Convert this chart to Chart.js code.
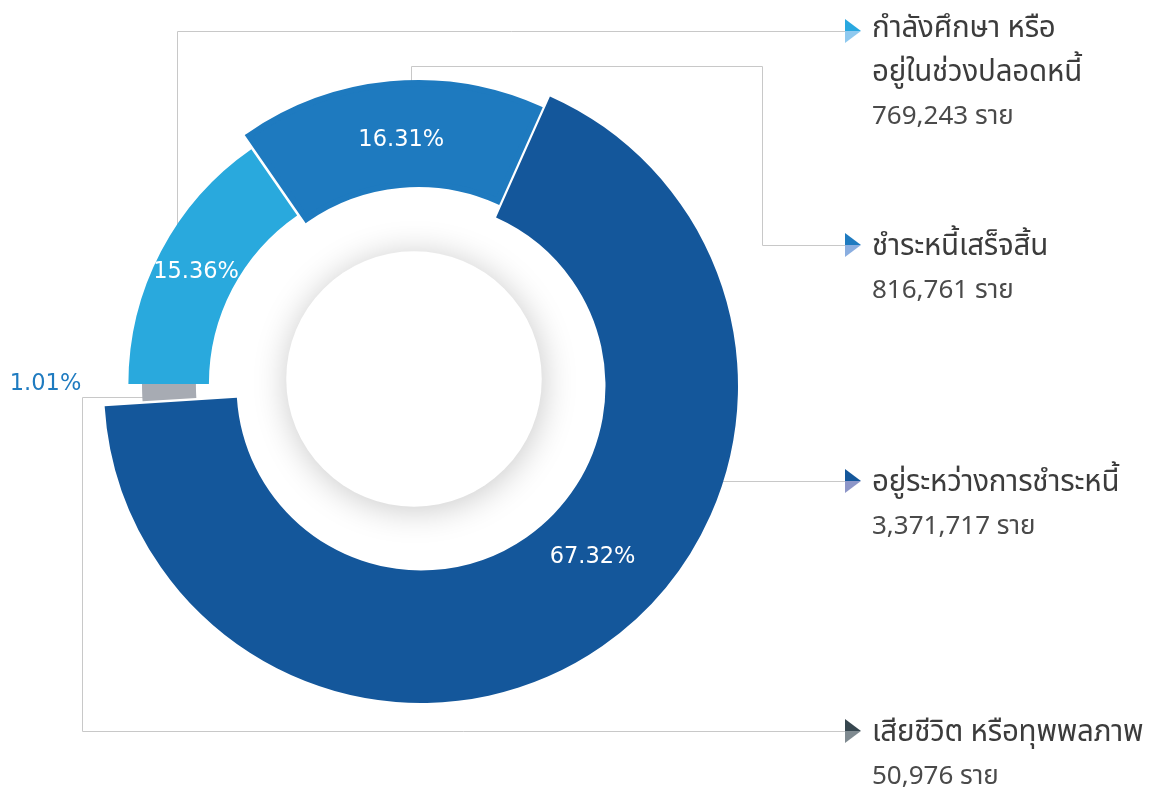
<!DOCTYPE html>
<html lang="th">
<head>
    <meta charset="UTF-8">
    <title>Borrower status</title>
    <script src="https://cdnjs.cloudflare.com/ajax/libs/Chart.js/4.4.1/chart.umd.min.js"></script>
    <style>
        * { margin: 0; padding: 0; box-sizing: border-box; }
        body { width: 1157px; height: 794px; background: #fff; position: relative; overflow: hidden;
               font-family: "Noto Sans Thai", "Noto Sans", "DejaVu Sans", sans-serif; }
        #chart { position: absolute; left: 0; top: 0; }
        .pct { position: absolute; transform: translate(-50%, -50%); font-family: "DejaVu Sans", sans-serif;
               font-size: 22.5px; color: #fff; white-space: nowrap; }
        .pct.out { transform: translate(-100%, -50%); color: #1f7bc0; }
        .note { position: absolute; left: 872px; color: #3c3c3c; line-height: 44px; white-space: nowrap; }
        .note .t { font-size: 29.5px; letter-spacing: -0.2px; }
        .note .n { font-size: 26px; color: #4a4a4a; }
    </style>
</head>
<body>
    <canvas id="chart" width="1157" height="794"></canvas>
    <div id="labels"></div>

    <script>
        // data
        const categories = ['อยู่ระหว่างการชำระหนี้', 'เสียชีวิต หรือทุพพลภาพ', 'กำลังศึกษา หรือ|อยู่ในช่วงปลอดหนี้', 'ชำระหนี้เสร็จสิ้น'];
        const borrowers = [3371717, 50976, 769243, 816761];
        const shares = [67.32, 1.01, 15.36, 16.31];
        const unit = 'ราย';

        // look
        const colors = ['#14579b', '#a7abb3', '#29a9dd', '#1e7abf'];
        const borders = [0, 0, 0, 6];
        const arrowLight = ['#8d96c8', '#7f8a90', '#8fc9ef', '#8aaee0'];
        const arrowDark = ['#14579b', '#37474f', '#29a8e0', '#1f7bc0'];
        const innerK = [0.582, 0.688, 0.647, 0.618];
        const outerK = [1.0, 0.858, 0.901, 0.937];
        const shiftX = [7, 0, 0, 4];
        const shiftY = [6, 4, 4, 0];
        const labelShift = [-10.6, 1.5, 0, 1.4];
        const labelK = [0.76, 1.16, 0.776, 0.765];
        const noteY = [481, 731, 31, 245];     // connector rows on the right
        const noteTop = [460, 710, 6, 224];

        const deg = Math.PI / 180;

        const ringShape = {
            id: 'ringShape',
            beforeDatasetsDraw(chart) {
                const meta = chart.getDatasetMeta(0);
                const R = meta.controller.outerRadius;
                const cx = (chart.chartArea.left + chart.chartArea.right) / 2;
                const cy = (chart.chartArea.top + chart.chartArea.bottom) / 2;
                meta.data.forEach((arc, i) => {
                    arc.x = cx + shiftX[i];
                    arc.y = cy + shiftY[i];
                    arc.innerRadius = R * innerK[i];
                    arc.outerRadius = R * outerK[i];
                });

                const ctx = chart.ctx;
                // connector lines (the slices cover their inner ends)
                ctx.save();
                ctx.strokeStyle = '#c8c8c8';
                ctx.lineWidth = 1;
                ctx.beginPath();
                ctx.moveTo(177.5, 260); ctx.lineTo(177.5, 31.5); ctx.lineTo(845, 31.5);
                ctx.moveTo(411.5, 120); ctx.lineTo(411.5, 66.5); ctx.lineTo(762.5, 66.5); ctx.lineTo(762.5, 245.5); ctx.lineTo(845, 245.5);
                ctx.moveTo(700, 481.5); ctx.lineTo(845, 481.5);
                ctx.moveTo(160, 397.5); ctx.lineTo(82.5, 397.5); ctx.lineTo(82.5, 731.5); ctx.lineTo(845, 731.5);
                ctx.stroke();

                // inner disc with soft shadow
                ctx.shadowColor = 'rgba(0,0,0,0.22)';
                ctx.shadowBlur = 34;
                ctx.shadowOffsetX = 1;
                ctx.shadowOffsetY = 3;
                ctx.fillStyle = '#fff';
                ctx.beginPath();
                ctx.arc(cx, cy - 1, R * 0.403, 0, Math.PI * 2);
                ctx.fill();
                ctx.restore();
            },
            afterDraw(chart) {
                const ctx = chart.ctx;
                noteY.forEach((y, i) => {
                    ctx.fillStyle = arrowDark[i];
                    ctx.beginPath();
                    ctx.moveTo(845, y - 12); ctx.lineTo(861, y); ctx.lineTo(845, y);
                    ctx.closePath(); ctx.fill();
                    ctx.fillStyle = arrowLight[i];
                    ctx.beginPath();
                    ctx.moveTo(845, y); ctx.lineTo(861, y); ctx.lineTo(845, y + 12);
                    ctx.closePath(); ctx.fill();
                });

                // percentage labels as html
                const meta = chart.getDatasetMeta(0);
                const box = document.getElementById('labels');
                box.innerHTML = '';
                meta.data.forEach((arc, i) => {
                    const a = (arc.startAngle + arc.endAngle) / 2 + labelShift[i] * deg;
                    const r = meta.controller.outerRadius * labelK[i];
                    const el = document.createElement('div');
                    el.className = 'pct' + (labelK[i] > 1 ? ' out' : '');
                    el.textContent = shares[i].toFixed(2) + '%';
                    const x = arc.x + Math.cos(a) * r + (labelK[i] > 1 ? 35 : 0);
                    el.style.left = x + 'px';
                    el.style.top = (arc.y + Math.sin(a) * r - (labelK[i] > 1 ? 4 : 0)) + 'px';
                    box.appendChild(el);
                });
            }
        };

        new Chart(document.getElementById('chart'), {
            type: 'doughnut',
            data: {
                labels: categories,
                datasets: [{
                    data: shares,
                    backgroundColor: colors,
                    borderColor: colors,
                    borderWidth: borders,
                    borderJoinStyle: 'miter'
                }]
            },
            options: {
                responsive: false,
                animation: false,
                devicePixelRatio: 1,
                rotation: 24,
                radius: 317,
                cutout: '58%',
                layout: { padding: { left: 50, right: 379, top: 40, bottom: 74 } },
                plugins: { legend: { display: false }, tooltip: { enabled: false } }
            },
            plugins: [ringShape]
        });

        // notes on the right
        categories.forEach((name, i) => {
            const note = document.createElement('div');
            note.className = 'note';
            note.style.top = noteTop[i] + 'px';
            name.split('|').forEach(line => {
                const t = document.createElement('div');
                t.className = 't';
                t.textContent = line;
                note.appendChild(t);
            });
            const n = document.createElement('div');
            n.className = 'n';
            n.textContent = borrowers[i].toLocaleString('en-US') + ' ' + unit;
            note.appendChild(n);
            document.body.appendChild(note);
        });
    </script>
</body>
</html>
